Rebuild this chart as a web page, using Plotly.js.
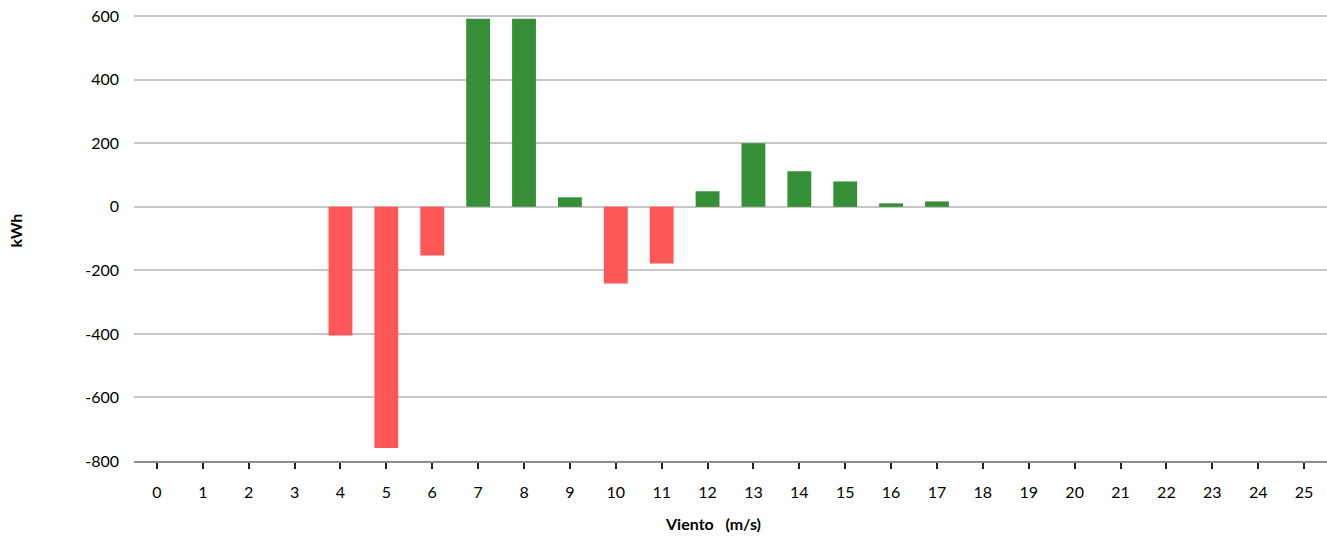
<!DOCTYPE html>
<html>
<head>
<meta charset="utf-8">
<script src="https://cdn.plot.ly/plotly-3.0.1.min.js"></script>
<style>html,body{margin:0;padding:0;background:#fff;}#chart{width:1327px;height:537px;}</style>
</head>
<body>
<div id="chart"></div>
<script>
const windSpeeds = [0,1,2,3,4,5,6,7,8,9,10,11,12,13,14,15,16,17,18,19,20,21,22,23,24,25];
const energyDiff = [0,0,0,0,-405,-759,-153,592,592,30,-241,-178,49,200,112,80,11,17,0,0,0,0,0,0,0,0];
const yTickValues = [-800,-600,-400,-200,0,200,400,600];
const xTitleText = 'Viento   (m/s)';
const yTitleText = 'kWh';
const positiveColor = '#368E37';
const negativeColor = '#FF5757';

const barColors = energyDiff.map(v => v < 0 ? negativeColor : positiveColor);
const FONT = 'Lato, "Open Sans", sans-serif';

const trace = {
  type: 'bar',
  x: windSpeeds,
  y: energyDiff,
  width: 0.52,
  marker: {color: barColors, line: {width: 0}},
  hoverinfo: 'x+y'
};

const layout = {
  width: 1327,
  height: 537,
  margin: {l: 134, r: 0, t: 0, b: 76},
  paper_bgcolor: '#ffffff',
  plot_bgcolor: '#ffffff',
  showlegend: false,
  font: {family: FONT, size: 16, color: '#000000'},
  xaxis: {
    range: [-0.5, 25.5],
    tickmode: 'array',
    tickvals: windSpeeds,
    ticktext: windSpeeds.map(String),
    ticks: 'outside',
    ticklen: 6,
    tickwidth: 2,
    tickcolor: '#222222',
    ticklabelstandoff: 10,
    showgrid: false,
    zeroline: false,
    showline: true,
    linecolor: '#8c8c8c',
    linewidth: 2,
    tickfont: {family: FONT, size: 16, color: '#000000'},
    fixedrange: true
  },
  yaxis: {
    range: [-800, 651],
    tickmode: 'array',
    tickvals: yTickValues,
    ticktext: yTickValues.map(String),
    ticks: '',
    ticklabelstandoff: 14,
    showgrid: true,
    gridcolor: '#c6c6c6',
    gridwidth: 2,
    zeroline: false,
    showline: false,
    tickfont: {family: FONT, size: 16, color: '#000000'},
    fixedrange: true
  },
  annotations: [
    {
      text: '<b>' + xTitleText + '</b>',
      xref: 'paper', yref: 'paper',
      x: (712.5 - 134) / (1327 - 134), y: 0,
      yshift: -62,
      xanchor: 'center', yanchor: 'middle',
      showarrow: false,
      font: {family: FONT, size: 16, color: '#000000'}
    },
    {
      text: '<b>' + yTitleText + '</b>',
      xref: 'paper', yref: 'paper',
      x: 0, y: 0.5,
      xshift: -119,
      textangle: -90,
      xanchor: 'center', yanchor: 'middle',
      showarrow: false,
      font: {family: FONT, size: 16, color: '#000000'}
    }
  ]
};

Plotly.newPlot('chart', [trace], layout, {displayModeBar: false, staticPlot: true});
</script>
</body>
</html>
